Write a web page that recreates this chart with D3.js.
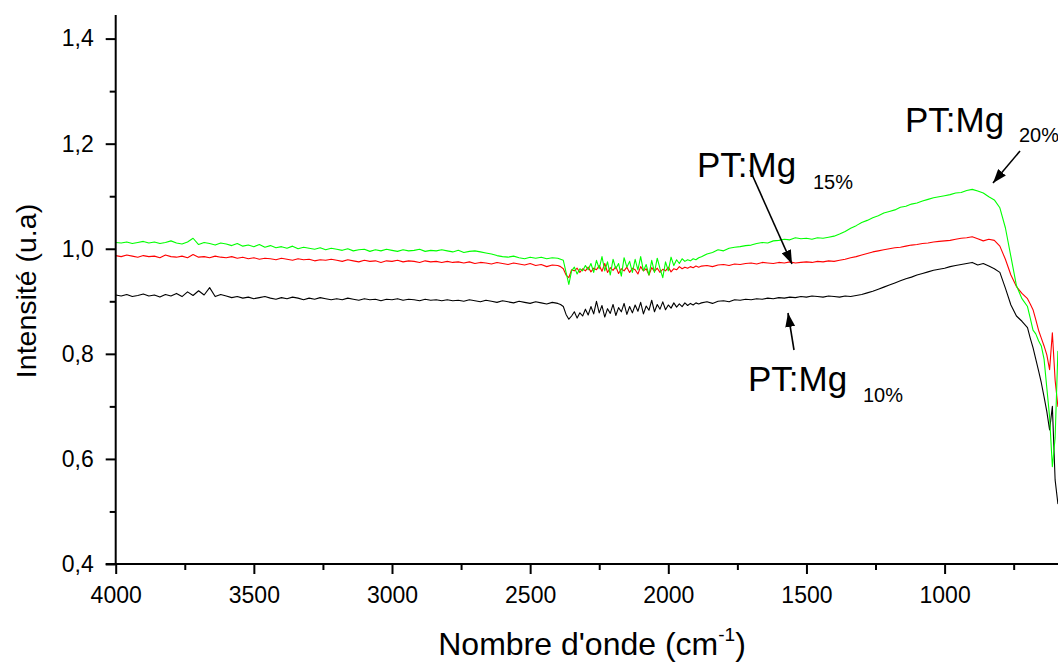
<!DOCTYPE html>
<html>
<head>
<meta charset="utf-8">
<script src="https://cdn.jsdelivr.net/npm/d3@7"></script>
<style>
  html, body { margin: 0; padding: 0; background: #fff; }
  svg { display: block; font-family: "Liberation Sans", Arial, sans-serif; }
</style>
</head>
<body>
<svg id="chart" width="1058" height="666"></svg>
<script>
// Sampling grid (cm-1): 20 cm-1 steps, 10 cm-1 steps in the noisy CO2 region and at the low end
const wavenumbers = d3.range(4000, 2400, -20)
  .concat(d3.range(2400, 1880, -10))
  .concat(d3.range(1880, 700, -20))
  .concat(d3.range(700, 575, -10));

const seriesNames = ["PT:Mg 10%", "PT:Mg 15%", "PT:Mg 20%"];

const mg20 = [
  1.012,1.011,1.013,1.010,1.012,1.014,1.011,1.013,1.010,1.012,1.015,1.011,1.009,1.013,1.020,1.008,1.012,1.010,1.007,1.011,
  1.009,1.006,1.010,1.005,1.007,1.004,1.008,1.003,1.006,1.002,1.004,1.001,1.005,1.000,1.003,1.001,0.999,1.002,0.998,1.001,
  0.999,0.997,1.000,0.996,0.998,0.999,0.995,0.998,0.996,0.999,0.997,0.995,0.998,0.996,0.997,0.999,0.995,0.997,0.996,0.998,
  0.996,0.994,0.997,0.993,0.995,0.996,0.994,0.992,0.990,0.987,0.985,0.984,0.986,0.983,0.981,0.984,0.982,0.984,0.981,0.983,
  // 2400 .. 1890 (step 10)
  0.982,0.980,0.978,0.955,0.932,0.958,0.965,0.952,0.962,0.958,
  0.968,0.960,0.972,0.955,0.978,0.962,0.985,0.958,0.975,0.950,
  0.980,0.962,0.972,0.948,0.983,0.965,0.976,0.955,0.980,0.960,
  0.985,0.958,0.970,0.950,0.978,0.955,0.982,0.962,0.945,0.975,
  0.958,0.984,0.968,0.979,0.972,0.981,0.976,0.979,0.977,0.981,
  0.979,0.983,
  // 1880 .. 1000
  0.985,0.990,0.993,0.998,0.996,1.001,1.003,1.004,1.006,1.007,1.010,1.012,1.011,1.015,1.016,1.018,1.017,1.021,1.019,1.020,
  1.018,1.021,1.020,1.022,1.024,1.028,1.033,1.039,1.044,1.050,1.054,1.059,1.063,1.068,1.071,1.074,1.079,1.081,1.085,1.087,
  1.091,1.094,1.097,1.099,1.101,
  // 980 .. 720
  1.103,1.106,1.107,1.111,1.113,1.110,1.106,1.099,1.093,1.078,1.040,0.985,0.930,0.905,
  // 700 .. 580
  0.890,0.868,0.845,0.838,0.825,0.815,0.790,0.735,0.680,0.585,0.640,0.805,0.700
];

const mg15 = [
  0.987,0.985,0.988,0.986,0.984,0.987,0.985,0.986,0.983,0.988,0.985,0.984,0.986,0.983,0.989,0.984,0.985,0.983,0.986,0.984,
  0.983,0.985,0.982,0.984,0.981,0.983,0.980,0.982,0.981,0.979,0.982,0.980,0.978,0.981,0.979,0.980,0.977,0.979,0.978,0.980,
  0.978,0.976,0.979,0.977,0.975,0.978,0.976,0.977,0.974,0.977,0.976,0.978,0.975,0.977,0.976,0.974,0.977,0.975,0.976,0.974,
  0.976,0.974,0.975,0.973,0.975,0.972,0.974,0.973,0.971,0.974,0.972,0.970,0.973,0.971,0.969,0.972,0.968,0.970,0.966,0.969,
  // 2400 .. 1890 (step 10)
  0.968,0.966,0.962,0.950,0.945,0.960,0.958,0.963,0.955,0.962,
  0.958,0.965,0.956,0.963,0.960,0.968,0.957,0.972,0.955,0.964,
  0.959,0.966,0.953,0.962,0.958,0.965,0.955,0.963,0.960,0.952,
  0.966,0.958,0.962,0.950,0.964,0.957,0.963,0.955,0.961,0.958,
  0.965,0.956,0.962,0.960,0.966,0.962,0.965,0.963,0.966,0.964,
  0.967,0.965,
  // 1880 .. 1000
  0.967,0.968,0.966,0.969,0.970,0.968,0.971,0.970,0.972,0.973,0.971,0.974,0.973,0.972,0.974,0.973,0.975,0.973,0.974,0.975,
  0.974,0.976,0.975,0.977,0.976,0.978,0.980,0.983,0.985,0.988,0.991,0.994,0.996,0.998,1.000,1.002,1.003,1.005,1.007,1.008,
  1.010,1.011,1.013,1.014,1.015,
  // 980 .. 720
  1.016,1.018,1.020,1.021,1.023,1.019,1.015,1.018,1.016,1.005,0.980,0.950,0.928,0.915,
  // 700 .. 580
  0.905,0.895,0.884,0.865,0.845,0.830,0.815,0.798,0.770,0.840,0.750,0.700,0.720
];

const mg10 = [
  0.912,0.910,0.913,0.909,0.911,0.914,0.910,0.912,0.908,0.913,0.910,0.915,0.909,0.918,0.911,0.920,0.912,0.926,0.909,0.913,
  0.910,0.907,0.909,0.906,0.908,0.905,0.907,0.909,0.906,0.904,0.907,0.905,0.908,0.906,0.903,0.906,0.904,0.907,0.905,0.903,
  0.905,0.903,0.906,0.904,0.902,0.905,0.903,0.904,0.901,0.904,0.903,0.905,0.902,0.904,0.903,0.901,0.904,0.902,0.903,0.901,
  0.903,0.901,0.902,0.900,0.903,0.901,0.899,0.902,0.900,0.898,0.901,0.899,0.897,0.900,0.898,0.896,0.899,0.897,0.895,0.898,
  // 2400 .. 1890 (step 10)
  0.896,0.894,0.890,0.875,0.866,0.872,0.880,0.868,0.878,0.872,
  0.885,0.874,0.890,0.876,0.900,0.878,0.892,0.870,0.886,0.877,
  0.894,0.873,0.888,0.880,0.896,0.875,0.890,0.878,0.893,0.881,
  0.898,0.876,0.891,0.883,0.902,0.880,0.894,0.885,0.899,0.884,
  0.893,0.887,0.897,0.889,0.895,0.890,0.897,0.892,0.896,0.893,
  0.897,0.895,
  // 1880 .. 1000
  0.897,0.899,0.896,0.900,0.901,0.899,0.903,0.902,0.904,0.903,0.905,0.904,0.906,0.905,0.907,0.906,0.908,0.907,0.909,0.908,
  0.910,0.909,0.908,0.910,0.909,0.908,0.910,0.909,0.911,0.913,0.916,0.919,0.923,0.927,0.931,0.935,0.939,0.943,0.946,0.950,
  0.953,0.956,0.959,0.961,0.963,
  // 980 .. 720
  0.966,0.968,0.970,0.972,0.974,0.969,0.972,0.967,0.962,0.955,0.925,0.893,0.872,0.862,
  // 700 .. 580
  0.850,0.830,0.812,0.790,0.768,0.745,0.718,0.690,0.655,0.700,0.560,0.515,0.540
];

const xTicks = [4000, 3500, 3000, 2500, 2000, 1500, 1000];
const yTicks = [0.4, 0.6, 0.8, 1.0, 1.2, 1.4];
const annotationMain = ["PT:Mg", "PT:Mg", "PT:Mg"];
const annotationSub = ["15%", "20%", "10%"];

const svg = d3.select("#chart");

const x = d3.scaleLinear().domain([4000, 400]).range([115.7, 115.7 + 3600 * 0.2763]);
const y = d3.scaleLinear().domain([0.4, 1.4]).range([564, 38.6]);

const series = [
  { name: seriesNames[0], values: mg10, color: "#000000" },
  { name: seriesNames[1], values: mg15, color: "#ff0000" },
  { name: seriesNames[2], values: mg20, color: "#00ff00" }
];

const line = d3.line()
  .x((d, i) => x(wavenumbers[i]))
  .y(d => y(d));

svg.append("g").selectAll("path")
  .data(series)
  .join("path")
  .attr("d", d => line(d.values.slice(0, wavenumbers.length)))
  .attr("fill", "none")
  .attr("stroke", d => d.color)
  .attr("stroke-width", 1.1)
  .attr("stroke-linejoin", "round");

// Axes
const xMinor = d3.range(3750, 400, -500);
const yMinor = [0.5, 0.7, 0.9, 1.1, 1.3];
const FONT = "Liberation Sans, Arial, sans-serif";

const xAxis = d3.axisBottom(x).tickValues(xTicks).tickSize(10).tickSizeOuter(0).tickPadding(13)
  .tickFormat(d3.format("d"));
const gx = svg.append("g").attr("transform", `translate(0,${y(0.4)})`).call(xAxis);
gx.select(".domain").attr("d", `M${x(4000) - 10},0H1058`).attr("stroke-width", 2);
gx.selectAll(".tick line").attr("stroke-width", 2);
gx.selectAll(".tick text").attr("font-size", 23).attr("font-family", FONT).attr("fill", "#000");

const gxm = svg.append("g").attr("transform", `translate(0,${y(0.4)})`)
  .call(d3.axisBottom(x).tickValues(xMinor).tickSize(6).tickFormat(""));
gxm.select(".domain").remove();
gxm.selectAll(".tick line").attr("stroke-width", 2);

const yAxis = d3.axisLeft(y).tickValues(yTicks).tickSize(10).tickSizeOuter(0).tickPadding(12)
  .tickFormat(d => d3.format(".1f")(d).replace(".", ","));
const gy = svg.append("g").attr("transform", `translate(${x(4000)},0)`).call(yAxis);
gy.select(".domain").attr("d", `M0,15V${y(0.4)}`).attr("stroke-width", 2);
gy.selectAll(".tick line").attr("stroke-width", 2);
gy.selectAll(".tick text").attr("font-size", 23).attr("font-family", FONT).attr("fill", "#000");

const gym = svg.append("g").attr("transform", `translate(${x(4000)},0)`)
  .call(d3.axisLeft(y).tickValues(yMinor).tickSize(6).tickFormat(""));
gym.select(".domain").remove();
gym.selectAll(".tick line").attr("stroke-width", 2);

// Axis titles
const xt = svg.append("text")
  .attr("x", 592).attr("y", 655)
  .attr("text-anchor", "middle")
  .attr("font-size", 32)
  .attr("fill", "#000");
xt.append("tspan").text("Nombre d'onde (cm");
xt.append("tspan").attr("font-size", 19).attr("dy", -14).text("-1");
xt.append("tspan").attr("dy", 14).text(")");

svg.append("text")
  .attr("transform", "translate(36,291) rotate(-90)")
  .attr("text-anchor", "middle")
  .attr("font-size", 28.5)
  .attr("fill", "#000")
  .text("Intensité (u.a)");

// Annotations
const ann = [
  { mx: 697, my: 177, sx: 813, sy: 189 },
  { mx: 905, my: 132, sx: 1019, sy: 142 },
  { mx: 748, my: 391, sx: 863, sy: 402 }
];
ann.forEach((a, i) => {
  svg.append("text").attr("x", a.mx).attr("y", a.my).attr("font-size", 35).attr("fill", "#000").text(annotationMain[i]);
  svg.append("text").attr("x", a.sx).attr("y", a.sy).attr("font-size", 20).attr("fill", "#000").text(annotationSub[i]);
});

svg.append("defs").append("marker")
  .attr("id", "ah")
  .attr("viewBox", "0 0 14 10")
  .attr("refX", 14).attr("refY", 5)
  .attr("markerWidth", 14).attr("markerHeight", 10)
  .attr("markerUnits", "userSpaceOnUse")
  .attr("orient", "auto")
  .append("path").attr("d", "M0,0L14,5L0,10Z").attr("fill", "#000");

const arrows = [
  [750, 170, 792, 264],
  [1020, 151, 993, 183],
  [794, 350, 788, 313]
];
svg.append("g").selectAll("line").data(arrows).join("line")
  .attr("x1", d => d[0]).attr("y1", d => d[1])
  .attr("x2", d => d[2]).attr("y2", d => d[3])
  .attr("stroke", "#000").attr("stroke-width", 1.6)
  .attr("marker-end", "url(#ah)");
</script>
</body>
</html>
